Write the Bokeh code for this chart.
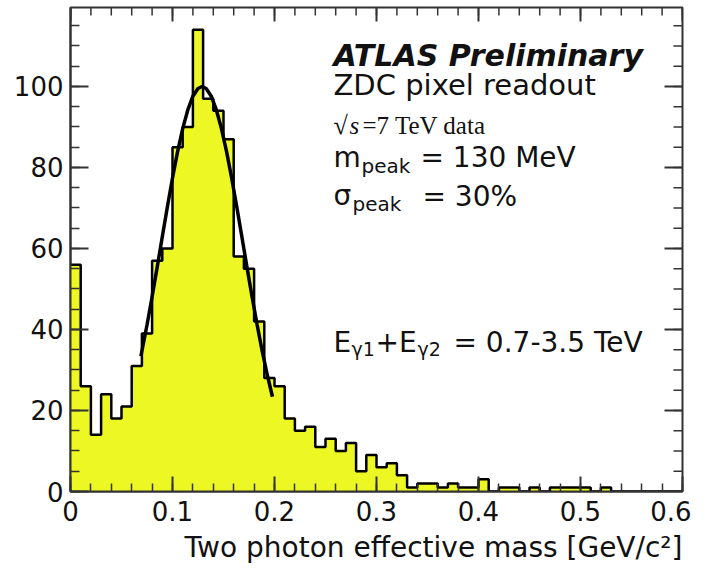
import math
from bokeh.plotting import figure
from bokeh.models import Range1d, LinearAxis, FixedTicker, Label, Title
from bokeh.embed import file_html
from bokeh.resources import INLINE

# ---------------- data ----------------
bin_width = 0.01
counts = [56, 26, 14, 24, 18, 21, 31, 39, 57, 60,
          85, 90, 114, 97, 94, 87, 58, 55, 42, 28,
          26, 18, 15, 16, 11, 13, 10, 12, 5, 9,
          6, 7, 4, 1, 2, 2, 1, 2, 1, 1,
          3, 0, 1, 1, 0, 1, 0, 1, 1, 1,
          1, 0, 1, 0, 0, 0, 0, 0, 0, 0]

fit_x = [0.069, 0.075, 0.080, 0.085, 0.090, 0.095, 0.100, 0.105, 0.110, 0.115,
         0.120, 0.125, 0.129, 0.133, 0.138, 0.143, 0.148, 0.153, 0.158, 0.163,
         0.168, 0.173, 0.178, 0.183, 0.188, 0.193, 0.198]
fit_y = [33.4, 41.1, 48.1, 55.4, 62.9, 70.3, 77.4, 83.9, 89.6, 94.2,
         97.6, 99.5, 100.0, 99.5, 97.6, 94.2, 89.6, 83.9, 77.4, 70.3,
         62.9, 55.4, 48.1, 41.1, 34.6, 28.7, 23.4]

x_ticks = [0, 0.1, 0.2, 0.3, 0.4, 0.5, 0.6]
x_tick_labels = ["0", "0.1", "0.2", "0.3", "0.4", "0.5", "0.6"]
y_ticks = [0, 20, 40, 60, 80, 100]
y_tick_labels = ["0", "20", "40", "60", "80", "100"]
x_title = "Two photon effective mass [GeV/c\u00b2]"

x_lo, x_hi = 0.0, 0.6
y_lo, y_hi = 0.0, 119.5

# ---------------- derived ----------------
left = [round(i * bin_width, 4) for i in range(len(counts))]
right = [round((i + 1) * bin_width, 4) for i in range(len(counts))]
step_x = left + [right[-1]]
step_y = counts + [0]

x_minor = [round(i * 0.02, 4) for i in range(31)]
y_minor = [i * 5 for i in range(24)]

SANS = "DejaVu Sans"
SERIF = "Liberation Serif"
FG = "#111111"
AX = "#333333"
YELLOW = "#ECF723"

p = figure(frame_width=612, frame_height=484,
           x_range=Range1d(x_lo, x_hi), y_range=Range1d(y_lo, y_hi),
           output_backend="svg", toolbar_location=None,
           x_axis_location=None, y_axis_location=None,
           min_border_left=70, min_border_right=9,
           min_border_top=7, min_border_bottom=20,
           background_fill_color="white", border_fill_color="white")
p.xgrid.visible = False
p.ygrid.visible = False
p.outline_line_color = AX
p.outline_line_width = 2


def make_axis(ticks, minor, labels, maj_in, min_in, standoff):
    ax = LinearAxis(ticker=FixedTicker(ticks=ticks, minor_ticks=minor))
    ax.major_tick_in = maj_in
    ax.major_tick_out = 0
    ax.minor_tick_in = min_in
    ax.minor_tick_out = 0
    ax.axis_line_color = AX
    ax.axis_line_width = 2
    ax.major_tick_line_color = AX
    ax.major_tick_line_width = 2
    ax.minor_tick_line_color = AX
    ax.minor_tick_line_width = 1.5
    ax.major_label_overrides = {t: l for t, l in zip(ticks, labels)}
    ax.major_label_text_font = SANS
    ax.major_label_text_font_size = "26px"
    ax.major_label_text_color = FG
    ax.major_label_standoff = standoff
    return ax


p.add_layout(make_axis(x_ticks, x_minor, x_tick_labels, 15, 8, 9), "below")
p.add_layout(make_axis(y_ticks, y_minor, y_tick_labels, 18, 9, 7), "left")
# x-axis title, right aligned as in ROOT
p.add_layout(Title(text=x_title, align="right", text_font=SANS,
                   text_font_size="28px", text_font_style="normal",
                   text_color=FG, standoff=10), "below")

# histogram (single filled area + black outline)
p.varea_step(x=step_x, y1=[0] * len(step_y), y2=step_y, step_mode="after",
             fill_color=YELLOW)
p.step(x=step_x, y=step_y, mode="after", line_color="black", line_width=2.5)
# gaussian fit
p.line(x=fit_x, y=fit_y, line_color="black", line_width=3.5)

# mirrored ticks on the top and right frame edges (ROOT style)
down, leftward = -math.pi / 2, math.pi
p.ray(x=x_ticks, y=[y_hi] * len(x_ticks), length=14, angle=down,
      length_units="screen", line_color=AX, line_width=2)
p.ray(x=x_minor, y=[y_hi] * len(x_minor), length=8, angle=down,
      length_units="screen", line_color=AX, line_width=1.5)
p.ray(x=[x_hi] * len(y_ticks), y=y_ticks, length=18, angle=leftward,
      length_units="screen", line_color=AX, line_width=2)
p.ray(x=[x_hi] * len(y_minor), y=y_minor, length=9, angle=leftward,
      length_units="screen", line_color=AX, line_width=1.5)


# ---------------- annotations ----------------
def X(px):
    return (px - 70) / 1020.0


def Y(py):
    return (491 - py) / 4.05


def lab(px, py, text, size, font=SANS, style="normal", align="left"):
    p.add_layout(Label(x=X(px), y=Y(py), text=text, text_font=font,
                       text_font_size=f"{size}px", text_font_style=style,
                       text_color=FG, text_align=align,
                       text_baseline="alphabetic"))


lab(333, 55, "ATLAS Preliminary", 30, style="bold italic")
lab(333, 85, "ZDC pixel readout", 29)
lab(333, 125, "\u221a", 26, font=SERIF)
lab(349, 125, "s", 25, font=SERIF, style="italic")
lab(362, 125, "=7 TeV data", 25, font=SERIF)

lab(333, 157, "m", 28)
lab(361, 166, "peak", 20)
lab(420, 157, "= 130 MeV", 28)

lab(333, 195, "\u03c3", 28)
lab(352, 204, "peak", 20)
lab(422, 196, "= 30%", 28)

lab(333, 342, "E", 28)
lab(351, 349, "\u03b31", 19)
lab(375, 342, "+E", 28)
lab(417, 349, "\u03b32", 19)
lab(453, 342, "= 0.7-3.5 TeV", 28)

open("out.html", "w").write(file_html(p, INLINE))
